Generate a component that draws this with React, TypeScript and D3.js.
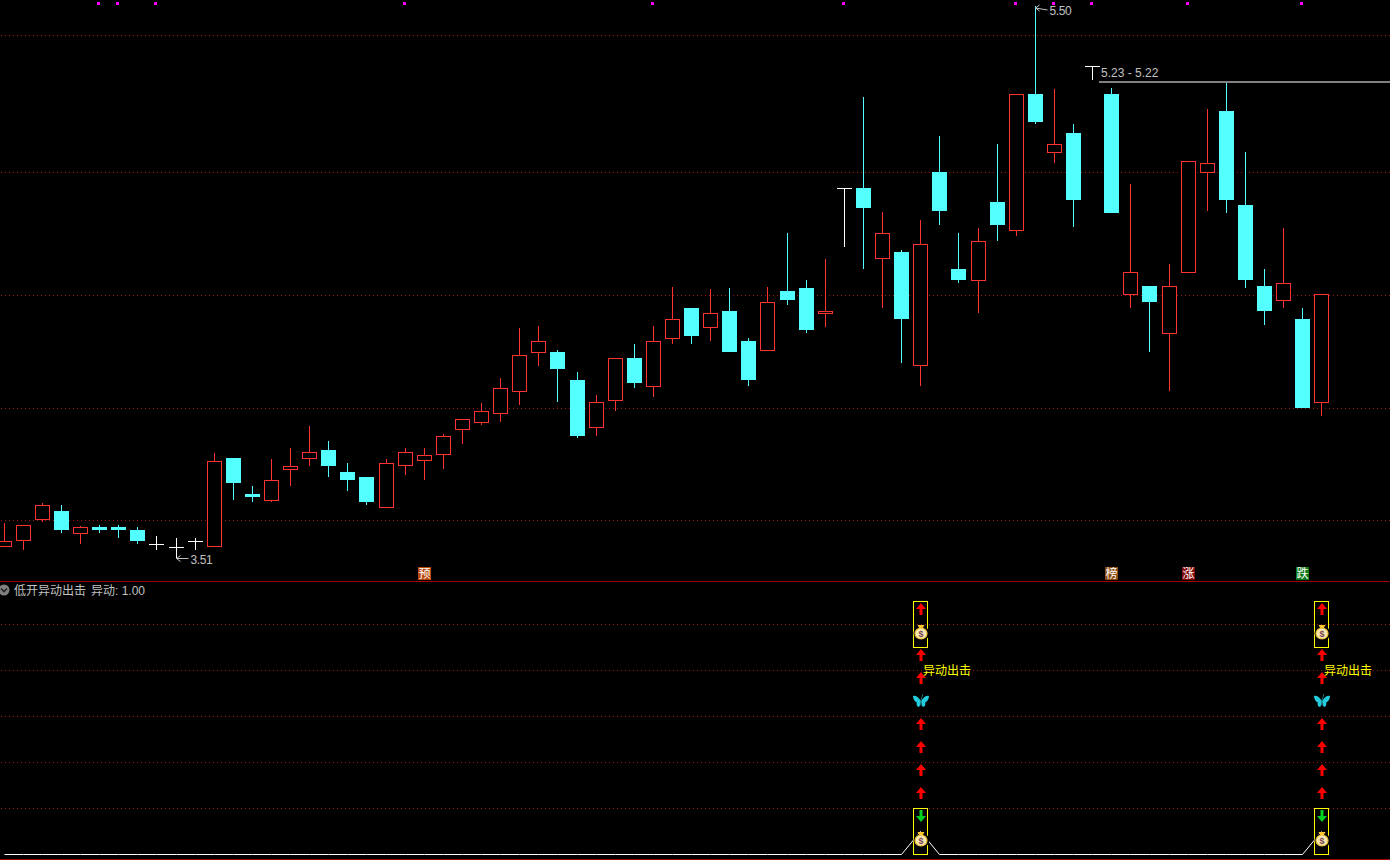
import * as d3 from 'd3';
import { useEffect, useRef } from 'react';

const WIDTH = 1390;
const HEIGHT = 860;

const opens = [
  3.55, 3.571, 3.647, 3.68, 3.597, 3.622, 3.622, 3.611, 3.561, 3.55, 3.571, 3.55, 3.871, 3.741,
  3.716, 3.827, 3.867, 3.899, 3.82, 3.802, 3.69, 3.842, 3.86, 3.881, 3.972, 3.997, 4.029, 4.109,
  4.249, 4.253, 4.152, 3.979, 4.076, 4.231, 4.127, 4.3, 4.411, 4.339, 4.4, 4.292, 4.256, 4.473,
  4.483, 4.39, 4.844, 4.844, 4.588, 4.613, 4.202, 4.902, 4.552, 4.509, 4.793, 4.689, 5.183, 4.97,
  5.042, 5.284, 5.183, 4.458, 4.491, 4.318, 4.538, 4.898, 5.122, 4.783, 4.491, 4.437, 4.372, 4.069,
];
const closes = [
  3.571, 3.629, 3.701, 3.611, 3.622, 3.611, 3.611, 3.571, 3.561, 3.55, 3.571, 3.86, 3.78, 3.73,
  3.791, 3.842, 3.892, 3.842, 3.791, 3.712, 3.853, 3.892, 3.881, 3.95, 4.011, 4.04, 4.123, 4.242,
  4.292, 4.191, 3.95, 4.072, 4.231, 4.141, 4.292, 4.372, 4.31, 4.393, 4.253, 4.152, 4.433, 4.44,
  4.332, 4.4, 4.844, 4.772, 4.682, 4.372, 4.642, 4.761, 4.512, 4.653, 4.711, 5.183, 5.082, 5.003,
  4.801, 5.284, 4.754, 4.541, 4.433, 4.491, 4.941, 4.934, 4.801, 4.512, 4.4, 4.501, 4.051, 4.462,
];
const highs = [
  3.636, 3.629, 3.708, 3.701, 3.625, 3.629, 3.629, 3.622, 3.589, 3.582, 3.582, 3.889, 3.871, 3.77,
  3.867, 3.907, 3.986, 3.932, 3.853, 3.802, 3.867, 3.907, 3.907, 3.957, 4.011, 4.069, 4.159, 4.339,
  4.346, 4.26, 4.181, 4.098, 4.231, 4.281, 4.346, 4.487, 4.411, 4.48, 4.483, 4.303, 4.487, 4.682,
  4.512, 4.588, 4.844, 5.172, 4.757, 4.62, 4.729, 5.031, 4.682, 4.7, 5.003, 5.183, 5.5, 5.201,
  5.075, 5.284, 5.204, 4.858, 4.491, 4.57, 4.941, 5.129, 5.23, 4.974, 4.552, 4.7, 4.411, 4.462,
];
const lows = [
  3.55, 3.539, 3.64, 3.6, 3.561, 3.6, 3.582, 3.561, 3.539, 3.51, 3.539, 3.55, 3.719, 3.712, 3.712,
  3.77, 3.842, 3.802, 3.752, 3.701, 3.69, 3.809, 3.791, 3.831, 3.921, 3.99, 4.0, 4.062, 4.202,
  4.072, 3.943, 3.95, 4.04, 4.123, 4.091, 4.281, 4.281, 4.292, 4.253, 4.13, 4.256, 4.422, 4.321,
  4.343, 4.631, 4.552, 4.411, 4.213, 4.13, 4.711, 4.501, 4.393, 4.653, 4.671, 5.075, 4.934, 4.703,
  5.233, 4.754, 4.411, 4.253, 4.112, 4.538, 4.761, 4.754, 4.483, 4.35, 4.411, 4.051, 4.022,
];

const priceGrid = [5.394, 4.9, 4.458, 4.05, 3.647];
const indicatorGrid = [1.0, 0.8, 0.6, 0.4, 0.2];

// magenta event ticks along the top edge, by candle index
const topMarkers = [5, 6, 8, 21, 34, 44, 53, 55, 57, 62, 68];

const badgeIndex = [22, 58, 62, 68];
const badgeText = ['预', '榜', '涨', '跌'];
const badgeFill = ['#b8480c', '#8a4a10', '#800808', '#0a7a18'];

// indicator pane
const signalIndex = [48, 69];
const redArrowLevels = [0.3, 0.4, 0.5, 0.6, 0.8, 0.9, 1.1];
const greenArrowLevels = [0.2];
const coinLevels = [0.1, 1.0];
const butterflyLevels = [0.7];
const boxRanges: [number, number][] = [
  [0, 0.2],
  [0.9, 1.1],
];
const signalLabelLevel = 0.8;

const C_RED = '#ff3232';
const C_CYAN = '#54ffff';
const C_GRID = '#a01414';
const C_SEP = '#a00000';
const C_LABEL = '#c0c0c0';
const FONT = '"Liberation Sans", "Noto Sans CJK SC", sans-serif';

export default function App() {
  const svgRef = useRef<SVGSVGElement | null>(null);

  useEffect(() => {
    if (!svgRef.current) return;
    document.body.style.margin = '0';
    document.body.style.background = '#000';

    const svg = d3.select(svgRef.current);
    svg.selectAll('*').remove();

    const xScale = d3.scaleLinear().domain([0, 69]).range([4.15, 1321.77]);
    const cx = (i: number) => Math.floor(xScale(i));
    const yPrice = d3.scaleLinear().domain([5.5, 3.51]).range([6, 558]);
    const py = (p: number) => Math.round(yPrice(p));
    const yInd = d3.scaleLinear().domain([0, 1.1]).range([854.5, 601.5]);

    svg.append('rect').attr('width', WIDTH).attr('height', HEIGHT).attr('fill', '#000');

    const crisp = svg.append('g').attr('shape-rendering', 'crispEdges');

    // grid
    const hDotted = (y: number) =>
      crisp
        .append('line')
        .attr('x1', 1)
        .attr('x2', WIDTH)
        .attr('y1', y)
        .attr('y2', y)
        .attr('stroke', C_GRID)
        .attr('stroke-dasharray', '1 3');
    priceGrid.forEach((p) => hDotted(py(p) + 0.5));
    indicatorGrid.forEach((v) => hDotted(Math.floor(yInd(v)) + 0.5));

    // pane separators
    [581.5, 859.5].forEach((y) => {
      crisp
        .append('line')
        .attr('x1', 0)
        .attr('x2', WIDTH)
        .attr('y1', y)
        .attr('y2', y)
        .attr('stroke', C_SEP);
    });

    // candles
    opens.forEach((open, i) => {
      const close = closes[i];
      const x = cx(i);
      const up = close > open;
      const flat = close === open;
      const color = flat ? '#ffffff' : up ? C_RED : C_CYAN;
      const top = py(Math.max(open, close));
      const bottom = py(Math.min(open, close));

      crisp
        .append('line')
        .attr('x1', x + 0.5)
        .attr('x2', x + 0.5)
        .attr('y1', py(highs[i]))
        .attr('y2', py(lows[i]))
        .attr('stroke', color);

      if (flat) {
        crisp
          .append('line')
          .attr('x1', x - 7)
          .attr('x2', x + 8)
          .attr('y1', top + 0.5)
          .attr('y2', top + 0.5)
          .attr('stroke', color);
      } else if (up) {
        crisp
          .append('rect')
          .attr('x', x - 6.5)
          .attr('y', top + 0.5)
          .attr('width', 14)
          .attr('height', bottom - top - 1)
          .attr('fill', '#000')
          .attr('stroke', color);
      } else {
        crisp
          .append('rect')
          .attr('x', x - 7)
          .attr('y', top)
          .attr('width', 15)
          .attr('height', bottom - top)
          .attr('fill', color);
      }
    });

    // top ticks
    crisp
      .selectAll('.top-marker')
      .data(topMarkers)
      .join('rect')
      .attr('class', 'top-marker')
      .attr('x', (i) => cx(i) - 2)
      .attr('y', 2)
      .attr('width', 3)
      .attr('height', 3)
      .attr('fill', '#ff00ff');

    // high / low callouts
    const callout = (i: number, price: number) => {
      const x = cx(i) + 0.5;
      const y = py(price) + (price > 5 ? 2 : 0.5);
      svg
        .append('path')
        .attr('d', `M${x},${y} L${x + 12},${y + (price > 5 ? 2 : 0)} M${x},${y} l4,-3 M${x},${y} l4,3`)
        .attr('fill', 'none')
        .attr('stroke', C_LABEL);
      svg
        .append('text')
        .attr('x', x + 14)
        .attr('y', y + (price > 5 ? 7 : 5))
        .attr('font-family', FONT)
        .attr('font-size', 12)
        .attr('letter-spacing', -0.4)
        .attr('fill', C_LABEL)
        .text(price.toFixed(2));
    };
    callout(d3.greatestIndex(highs), d3.max(highs)!);
    callout(d3.leastIndex(lows), d3.min(lows)!);

    // resistance line from the flat candle to the right edge
    const rangeHigh = 5.23;
    const rangeLow = 5.22;
    const rangeAt = 57;
    crisp
      .append('rect')
      .attr('x', cx(rangeAt) + 7)
      .attr('y', py(rangeHigh))
      .attr('width', WIDTH - cx(rangeAt) - 7)
      .attr('height', 2)
      .attr('fill', '#808080');
    svg
      .append('text')
      .attr('x', cx(rangeAt) + 9)
      .attr('y', py(rangeHigh) - 4)
      .attr('font-family', FONT)
      .attr('font-size', 12)
      .attr('fill', C_LABEL)
      .text(`${rangeHigh.toFixed(2)} - ${rangeLow.toFixed(2)}`);

    // badges above the separator
    badgeIndex.forEach((i, k) => {
      const x = cx(i);
      crisp
        .append('rect')
        .attr('x', x - 6)
        .attr('y', 567)
        .attr('width', 13)
        .attr('height', 13)
        .attr('fill', badgeFill[k]);
      svg
        .append('text')
        .attr('x', x + 0.5)
        .attr('y', 578)
        .attr('text-anchor', 'middle')
        .attr('font-family', FONT)
        .attr('font-size', 12)
        .attr('fill', '#ffffff')
        .text(badgeText[k]);
    });

    // indicator header
    svg.append('circle').attr('cx', 4).attr('cy', 590).attr('r', 5.5).attr('fill', '#808080');
    svg
      .append('path')
      .attr('d', 'M1,588.5 L4,591.5 L7,588.5')
      .attr('fill', 'none')
      .attr('stroke', '#222')
      .attr('stroke-width', 1.6);
    svg
      .append('text')
      .attr('x', 14)
      .attr('y', 594.5)
      .attr('font-family', FONT)
      .attr('font-size', 12)
      .attr('fill', C_LABEL)
      .text('低开异动出击');
    svg
      .append('text')
      .attr('x', 91)
      .attr('y', 594.5)
      .attr('font-family', FONT)
      .attr('font-size', 12)
      .attr('fill', C_LABEL)
      .text('异动: 1.00');

    // signal trace, 0 except on signal bars
    const trace = opens.map((_, i) => (signalIndex.includes(i) ? 0.1 : 0));
    const traceLine = d3
      .line<number>()
      .x((_, i) => cx(i) + 0.5)
      .y((v) => yInd(v));
    svg
      .append('path')
      .attr('d', traceLine(trace))
      .attr('fill', 'none')
      .attr('stroke', '#ffffff')
      .attr('stroke-width', 1);

    // stacked icons
    signalIndex.forEach((i) => {
      const x = cx(i);
      const c = x + 1;

      boxRanges.forEach(([lo, hi]) => {
        crisp
          .append('rect')
          .attr('x', x - 6.5)
          .attr('y', Math.floor(yInd(hi)) + 0.5)
          .attr('width', 14)
          .attr('height', Math.floor(yInd(lo)) - Math.floor(yInd(hi)))
          .attr('fill', 'none')
          .attr('stroke', '#ffff00');
      });

      redArrowLevels.forEach((v) => {
        const t = Math.floor(yInd(v)) + 2;
        svg
          .append('path')
          .attr('d', `M${c},${t} L${c + 5},${t + 6} H${c + 1.5} V${t + 12} H${c - 1.5} V${t + 6} H${c - 5} Z`)
          .attr('fill', '#ff0000');
      });

      greenArrowLevels.forEach((v) => {
        const t = Math.floor(yInd(v)) + 2;
        svg
          .append('path')
          .attr('d', `M${c - 1.5},${t} H${c + 1.5} V${t + 6} H${c + 5} L${c},${t + 12} L${c - 5},${t + 6} H${c - 1.5} Z`)
          .attr('fill', '#00d020');
      });

      coinLevels.forEach((v) => {
        const g = svg.append('g').attr('transform', `translate(${c},${Math.floor(yInd(v))})`);
        g.append('ellipse')
          .attr('cx', 0.5)
          .attr('cy', 9.5)
          .attr('rx', 8)
          .attr('ry', 7)
          .attr('fill', '#000');
        g.append('path').attr('d', 'M-3.5,1 H3.5 L1.5,4.5 H-1.5 Z').attr('fill', '#ffc830');
        g.append('ellipse')
          .attr('cy', 9.5)
          .attr('rx', 6)
          .attr('ry', 5.5)
          .attr('fill', '#f5e8b0')
          .attr('stroke', '#f0c030')
          .attr('stroke-width', 1.2);
        g.append('text')
          .attr('y', 12.5)
          .attr('text-anchor', 'middle')
          .attr('font-family', FONT)
          .attr('font-size', 9)
          .attr('font-weight', 700)
          .attr('fill', '#7a4458')
          .text('$');
      });

      butterflyLevels.forEach((v) => {
        const g = svg.append('g').attr('transform', `translate(${c},${Math.floor(yInd(v))})`);
        g.append('path')
          .attr(
            'd',
            'M0,8 C-3,3 -6,2 -8,3 C-8,6 -6,9 -4,9.5 C-5,11 -4,14 -2,14 C-1,13 -0.5,11 0,9 Z ' +
              'M0,8 C3,3 6,2 8,3 C8,6 6,9 4,9.5 C5,11 4,14 2,14 C1,13 0.5,11 0,9 Z',
          )
          .attr('fill', '#22ccdc');
        g.append('path')
          .attr('d', 'M0,13 V7 M0,7 L2,1')
          .attr('stroke', '#1a6a70')
          .attr('fill', 'none');
      });

      svg
        .append('text')
        .attr('x', c + 2)
        .attr('y', yInd(signalLabelLevel) + 4)
        .attr('font-family', FONT)
        .attr('font-size', 12)
        .attr('fill', '#ffff00')
        .text('异动出击');
    });
  }, []);

  return (
    <svg
      ref={svgRef}
      width={WIDTH}
      height={HEIGHT}
      style={{ position: 'absolute', left: 0, top: 0, display: 'block' }}
    />
  );
}
